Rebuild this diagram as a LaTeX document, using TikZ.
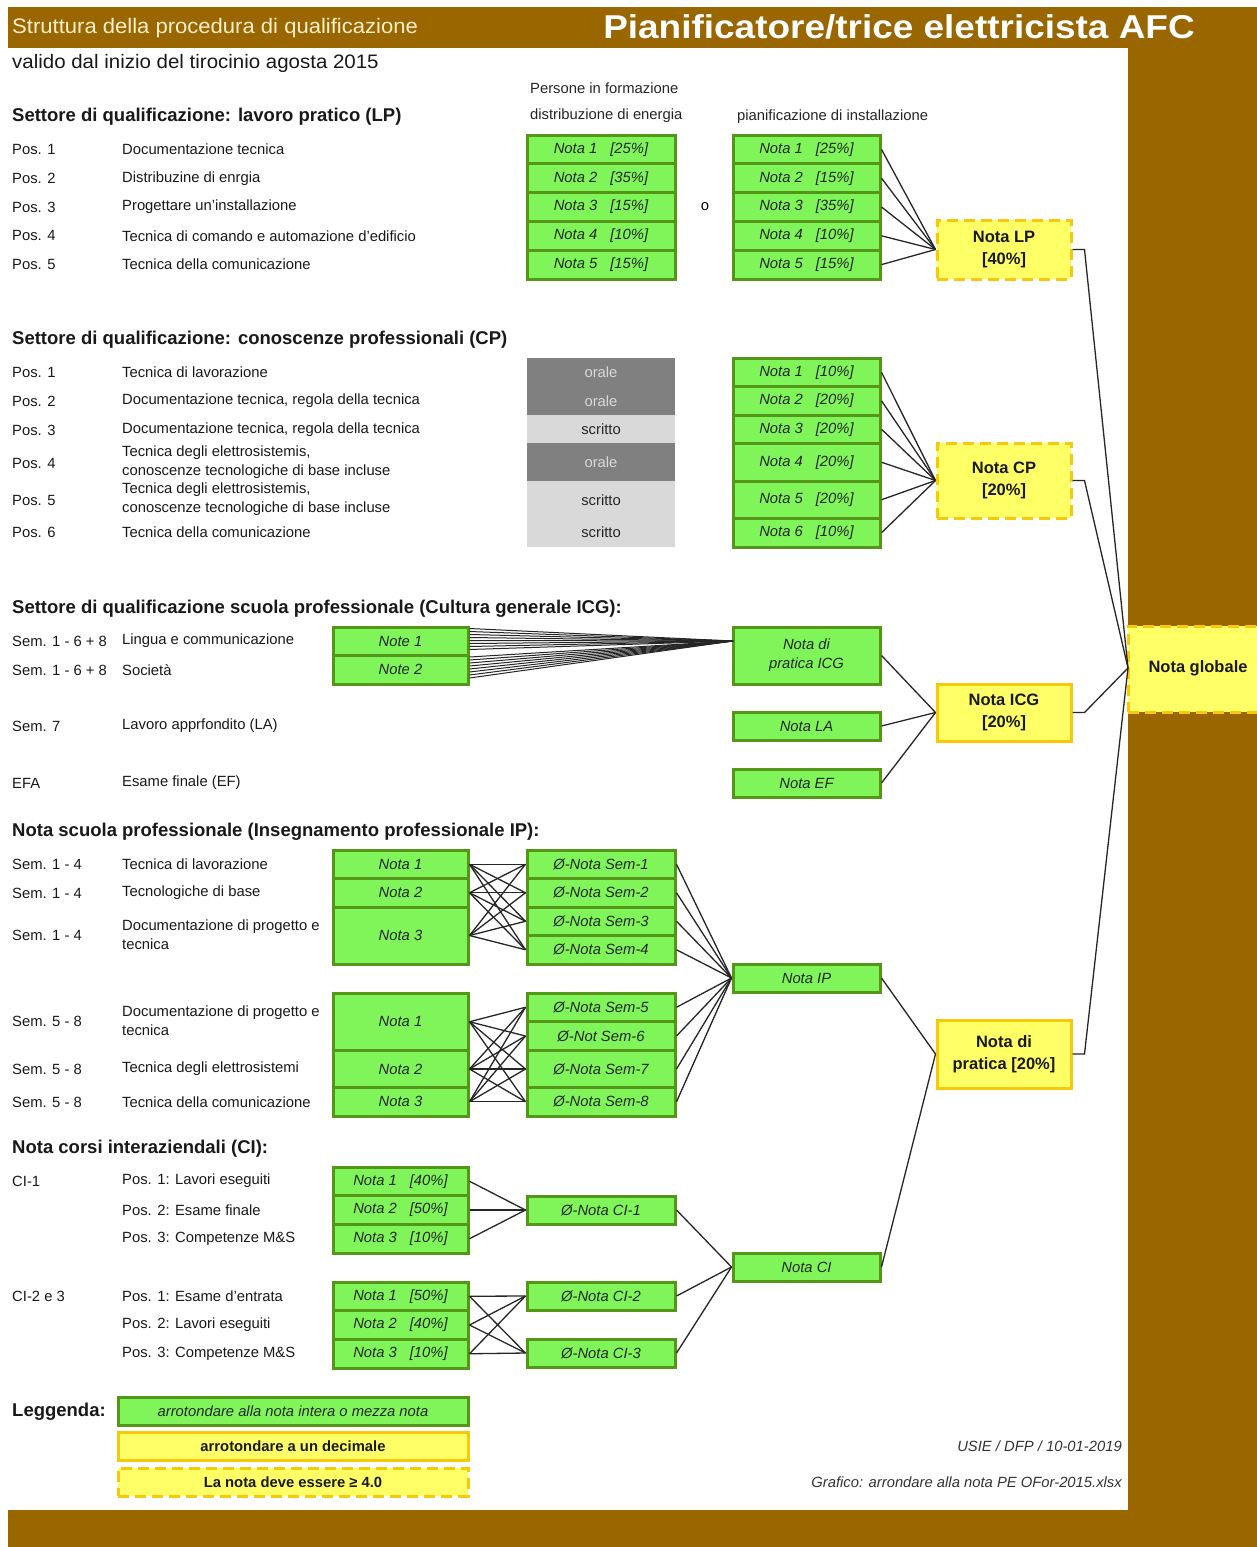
\documentclass[tikz,border=0pt]{standalone}
\usepackage{fontspec}
\setmainfont{Liberation Sans}
\usetikzlibrary{calc}
\definecolor{bgbrown}{RGB}{153,102,0}
\definecolor{gfill}{RGB}{128,245,90}
\definecolor{gline}{RGB}{84,150,24}
\definecolor{yfill}{RGB}{255,255,102}
\definecolor{yline}{RGB}{250,200,10}
\definecolor{dgrey}{RGB}{128,128,128}
\definecolor{lgrey}{RGB}{217,217,217}
\definecolor{cream}{RGB}{255,240,205}
\newcommand\ftxt{\fontsize{14.8}{19}\selectfont}
\newcommand\fhead{\fontsize{18.5}{20}\selectfont\bfseries}
\newcommand\bx[7]{%
 \pgfmathsetmacro\cx{(#3+#5)/2}\pgfmathsetmacro\cy{(#4+#6)/2}%
 \pgfmathsetmacro\ww{#5-#3}\pgfmathsetmacro\hh{#6-#4}%
 \node[#1, minimum width=\ww pt, minimum height=\hh pt] (#2) at (\cx,\cy) {#7};}
\newcommand\nt[2]{Nota #1\hspace{13pt}[#2\%]}
\tikzset{
 gbox/.style={draw=gline, fill=gfill, line width=3pt, inner sep=0pt, align=center,
   font=\fontsize{14.8}{19}\selectfont\itshape, text=black!85},
 ybox/.style={draw=yline, fill=yfill, line width=3pt, inner sep=0pt, align=center,
   font=\fontsize{16.5}{22}\selectfont\bfseries, text=black!90},
 ydbox/.style={ybox, dash pattern=on 11pt off 6pt},
 dgbox/.style={fill=dgrey, inner sep=0pt, font=\ftxt, text=lgrey},
 lgbox/.style={fill=lgrey, inner sep=0pt, font=\ftxt, text=black!85},
 lab/.style={anchor=west, inner sep=0pt, font=\ftxt, text=black!90, align=left},
 hd/.style={anchor=west, inner sep=0pt, font=\fhead, text=black!90},
 con/.style={line width=1.3pt, black!85},
}
\begin{document}
\begin{tikzpicture}[x=1pt,y=-1pt]
\useasboundingbox (0,0) rectangle (1257,1547);
\fill[white] (0,0) rectangle (1257,1547);
% frame
\fill[bgbrown] (8,7) rectangle (1257,48);
\fill[bgbrown] (1128,7) rectangle (1257,1547);
\fill[bgbrown] (8,1510) rectangle (1257,1547);
\node[anchor=west, inner sep=0pt, text=cream, font=\fontsize{21}{24}\selectfont] (title1) at (12,28) {\scalebox{1.05}[1]{Struttura della procedura di qualificazione}};
\node[anchor=east, inner sep=0pt, text=white, font=\fontsize{33}{36}\selectfont\bfseries] (title2) at (1195,27) {\scalebox{1.12}[1]{Pianificatore/trice elettricista AFC}};
\node[anchor=west, inner sep=0pt, text=black!90, font=\fontsize{19.5}{22}\selectfont] (valido) at (12,63) {\scalebox{1.05}[1]{valido dal inizio del tirocinio agosta 2015}};
\node[anchor=west, inner sep=0pt, font=\fontsize{14.8}{16}\selectfont, text=black!85] (pif) at (530,88) {Persone in formazione};
\node[anchor=west, inner sep=0pt, font=\fontsize{14.8}{16}\selectfont, text=black!85] (dde) at (530,116) {distribuzione di energia};
\node[anchor=west, inner sep=0pt, font=\fontsize{14.8}{16}\selectfont, text=black!85] (pdi) at (737,117) {pianificazione di installazione};

% ===== LP =====
\node[hd] (hLP) at (12,117) {Settore di qualificazione: lavoro pratico (LP)};
\node[lab] (lp1p) at (12,149.4) {Pos. 1}; \node[lab] (lp1t) at (122,149.4) {Documentazione tecnica};
\node[lab] (lp2p) at (12,178.2) {Pos. 2}; \node[lab] (lp2t) at (122,178.2) {Distribuzine di enrgia};
\node[lab] (lp3p) at (12,207) {Pos. 3}; \node[lab] (lp3t) at (122,207) {Progettare un'installazione};
\node[lab] (lp4p) at (12,235.8) {Pos. 4}; \node[lab] (lp4t) at (122,235.8) {Tecnica di comando e automazione d'edificio};
\node[lab] (lp5p) at (12,264.6) {Pos. 5}; \node[lab] (lp5t) at (122,264.6) {Tecnica della comunicazione};
\bx{gbox}{lpa1}{527}{135}{675}{163.8}{\nt{1}{25}}
\bx{gbox}{lpa2}{527}{163.8}{675}{192.6}{\nt{2}{35}}
\bx{gbox}{lpa3}{527}{192.6}{675}{221.4}{\nt{3}{15}}
\bx{gbox}{lpa4}{527}{221.4}{675}{250.2}{\nt{4}{10}}
\bx{gbox}{lpa5}{527}{250.2}{675}{279}{\nt{5}{15}}
\node[inner sep=0pt, font=\ftxt] (oo) at (705,207) {o};
\bx{gbox}{lpb1}{733}{135}{880}{163.8}{\nt{1}{25}}
\bx{gbox}{lpb2}{733}{163.8}{880}{192.6}{\nt{2}{15}}
\bx{gbox}{lpb3}{733}{192.6}{880}{221.4}{\nt{3}{35}}
\bx{gbox}{lpb4}{733}{221.4}{880}{250.2}{\nt{4}{10}}
\bx{gbox}{lpb5}{733}{250.2}{880}{279}{\nt{5}{15}}
\bx{ydbox}{nlp}{937}{220}{1071}{279}{Nota LP\\[0pt][40\%]}
\foreach \i in {1,...,5} \draw[con] (lpb\i.east) -- (nlp.west);

% ===== CP =====
\node[hd] (hCP) at (12,340) {Settore di qualificazione: conoscenze professionali (CP)};
\node[lab] (cp1p) at (12,372) {Pos. 1}; \node[lab] (cp1t) at (122,372) {Tecnica di lavorazione};
\node[lab] (cp2p) at (12,401) {Pos. 2}; \node[lab] (cp2t) at (122,401) {Documentazione tecnica, regola della tecnica};
\node[lab] (cp3p) at (12,430) {Pos. 3}; \node[lab] (cp3t) at (122,430) {Documentazione tecnica, regola della tecnica};
\node[lab] (cp4p) at (12,463) {Pos. 4}; \node[lab] (cp4t) at (122,462) {Tecnica degli elettrosistemis,\\conoscenze tecnologiche di base incluse};
\node[lab] (cp5p) at (12,500) {Pos. 5}; \node[lab] (cp5t) at (122,499.5) {Tecnica degli elettrosistemis,\\conoscenze tecnologiche di base incluse};
\node[lab] (cp6p) at (12,532) {Pos. 6}; \node[lab] (cp6t) at (122,532) {Tecnica della comunicazione};
\bx{dgbox}{gr1}{527}{358}{675}{415}{}
\node[inner sep=0pt, font=\ftxt, text=lgrey] (or1) at (601,372) {orale};
\node[inner sep=0pt, font=\ftxt, text=lgrey] (or2) at (601,401) {orale};
\bx{lgbox}{gr2}{527}{415}{675}{443}{scritto}
\bx{dgbox}{gr3}{527}{443}{675}{481}{orale}
\bx{lgbox}{gr4}{527}{481}{675}{547}{}
\node[inner sep=0pt, font=\ftxt, text=black!85] (sc1) at (601,500) {scritto};
\node[inner sep=0pt, font=\ftxt, text=black!85] (sc2) at (601,532) {scritto};
\bx{gbox}{cp1}{733}{358}{880}{386.5}{\nt{1}{10}}
\bx{gbox}{cp2}{733}{386.5}{880}{415}{\nt{2}{20}}
\bx{gbox}{cp3}{733}{415}{880}{443.5}{\nt{3}{20}}
\bx{gbox}{cp4}{733}{443.5}{880}{481}{\nt{4}{20}}
\bx{gbox}{cp5}{733}{481}{880}{518.5}{\nt{5}{20}}
\bx{gbox}{cp6}{733}{518.5}{880}{547}{\nt{6}{10}}
\bx{ydbox}{ncp}{937}{443}{1071}{518}{Nota CP\\[0pt][20\%]}
\foreach \i in {1,...,6} \draw[con] (cp\i.east) -- (ncp.west);

% ===== ICG =====
\node[hd] (hICG) at (12,609) {Settore di qualificazione scuola professionale (Cultura generale ICG):};
\node[lab] (ic1p) at (12,641) {Sem. 1 - 6 + 8}; \node[lab] (ic1t) at (122,641) {Lingua e communicazione};
\node[lab] (ic2p) at (12,670) {Sem. 1 - 6 + 8}; \node[lab] (ic2t) at (122,670) {Società};
\node[lab] (ic3p) at (12,726) {Sem. 7}; \node[lab] (ic3t) at (122,726) {Lavoro apprfondito (LA)};
\node[lab] (ic4p) at (12,783) {EFA}; \node[lab] (ic4t) at (122,783) {Esame finale (EF)};
\bx{gbox}{ng1}{333}{627}{468}{655.5}{Note 1}
\bx{gbox}{ng2}{333}{655.5}{468}{684}{Note 2}
\bx{gbox}{icgp}{733}{627}{880}{684}{Nota di\\pratica ICG}
\bx{gbox}{nla}{733}{712}{880}{740}{Nota LA}
\bx{gbox}{nef}{733}{769}{880}{797}{Nota EF}
\bx{ybox}{nicg}{937}{684}{1071}{741}{Nota ICG\\[0pt][20\%]}
\coordinate (icgc) at (733,641);
\foreach \d in {3,6,...,24} {
  \draw[con, line width=1pt] ([yshift=-\d pt]ng1.north east) -- (icgc);
  \draw[con, line width=1pt] ([yshift=-\d pt]ng2.north east) -- (icgc);
}
\draw[con] (icgp.east) -- (nicg.west);
\draw[con] (nla.east) -- (nicg.west);
\draw[con] (nef.east) -- (nicg.west);

% ===== IP =====
\node[hd] (hIP) at (12,832) {Nota scuola professionale (Insegnamento professionale IP):};
\node[lab] (ip1p) at (12,864) {Sem. 1 - 4}; \node[lab] (ip1t) at (122,864) {Tecnica di lavorazione};
\node[lab] (ip2p) at (12,893) {Sem. 1 - 4}; \node[lab] (ip2t) at (122,893) {Tecnologiche di base};
\node[lab] (ip3p) at (12,935) {Sem. 1 - 4}; \node[lab] (ip3t) at (122,934.5) {Documentazione di progetto e\\tecnica};
\node[lab] (ip4p) at (12,1021) {Sem. 5 - 8}; \node[lab] (ip4t) at (122,1020.5) {Documentazione di progetto e\\tecnica};
\node[lab] (ip5p) at (12,1069) {Sem. 5 - 8}; \node[lab] (ip5t) at (122,1069) {Tecnica degli elettrosistemi};
\node[lab] (ip6p) at (12,1102) {Sem. 5 - 8}; \node[lab] (ip6t) at (122,1102) {Tecnica della comunicazione};
\bx{gbox}{ia1}{333}{850}{468}{878.5}{Nota 1}
\bx{gbox}{ia2}{333}{878.5}{468}{907}{Nota 2}
\bx{gbox}{ia3}{333}{907}{468}{964}{Nota 3}
\bx{gbox}{s1}{527}{850}{675}{878.5}{Ø-Nota Sem-1}
\bx{gbox}{s2}{527}{878.5}{675}{907}{Ø-Nota Sem-2}
\bx{gbox}{s3}{527}{907}{675}{935.5}{Ø-Nota Sem-3}
\bx{gbox}{s4}{527}{935.5}{675}{964}{Ø-Nota Sem-4}
\bx{gbox}{ib1}{333}{993}{468}{1050.5}{Nota 1}
\bx{gbox}{ib2}{333}{1050.5}{468}{1087.5}{Nota 2}
\bx{gbox}{ib3}{333}{1087.5}{468}{1116}{Nota 3}
\bx{gbox}{s5}{527}{993}{675}{1021.5}{Ø-Nota Sem-5}
\bx{gbox}{s6}{527}{1021.5}{675}{1050.5}{Ø-Not Sem-6}
\bx{gbox}{s7}{527}{1050.5}{675}{1087.5}{Ø-Nota Sem-7}
\bx{gbox}{s8}{527}{1087.5}{675}{1116}{Ø-Nota Sem-8}
\bx{gbox}{nip}{733}{964}{880}{992}{Nota IP}
\foreach \a in {1,2,3} {
  \foreach \s in {1,2,3,4} \draw[con] (ia\a.east) -- (s\s.west);
  \foreach \s in {5,6,7,8} \draw[con] (ib\a.east) -- (s\s.west);
}
\foreach \s in {1,...,8} \draw[con] (s\s.east) -- (nip.west);
\bx{ybox}{npr}{937}{1020}{1071}{1088}{Nota di\\[0pt]pratica [20\%]}
\draw[con] (nip.east) -- (npr.west);

% ===== CI =====
\node[hd] (hCI) at (12,1149) {Nota corsi interaziendali (CI):};
\node[lab] (ci0) at (12,1181) {CI-1};
\node[lab] (ci1t) at (122,1181) {Pos. 1: Lavori eseguiti};
\node[lab] (ci2t) at (122,1210) {Pos. 2: Esame finale};
\node[lab] (ci3t) at (122,1239) {Pos. 3: Competenze M\&S};
\node[lab] (ci00) at (12,1296) {CI-2 e 3};
\node[lab] (ci4t) at (122,1296) {Pos. 1: Esame d'entrata};
\node[lab] (ci5t) at (122,1325) {Pos. 2: Lavori eseguiti};
\node[lab] (ci6t) at (122,1354) {Pos. 3: Competenze M\&S};
\bx{gbox}{ca1}{333}{1167}{468}{1195.5}{\nt{1}{40}}
\bx{gbox}{ca2}{333}{1195.5}{468}{1224.5}{\nt{2}{50}}
\bx{gbox}{ca3}{333}{1224.5}{468}{1253}{\nt{3}{10}}
\bx{gbox}{ci1}{527}{1196}{675}{1224}{Ø-Nota CI-1}
\bx{gbox}{cb1}{333}{1282}{468}{1310.5}{\nt{1}{50}}
\bx{gbox}{cb2}{333}{1310.5}{468}{1339.5}{\nt{2}{40}}
\bx{gbox}{cb3}{333}{1339.5}{468}{1368}{\nt{3}{10}}
\bx{gbox}{ci2}{527}{1282}{675}{1310}{Ø-Nota CI-2}
\bx{gbox}{ci3}{527}{1339}{675}{1367}{Ø-Nota CI-3}
\bx{gbox}{nci}{733}{1253}{880}{1281}{Nota CI}
\foreach \a in {1,2,3} {
  \draw[con] (ca\a.east) -- (ci1.west);
  \draw[con] (cb\a.east) -- (ci2.west);
  \draw[con] (cb\a.east) -- (ci3.west);
}
\foreach \s in {1,2,3} \draw[con] (ci\s.east) -- (nci.west);
\draw[con] (nci.east) -- (npr.west);

% ===== global =====
\bx{ydbox}{nglob}{1128}{626}{1268}{712}{}
\node[inner sep=0pt, font=\fontsize{16.5}{20}\selectfont\bfseries, text=black!90] (ngt) at (1198,668) {Nota globale};
\coordinate (gin) at (1128,668);
\foreach \n in {nlp,ncp,nicg,npr} \draw[con] (\n.east) -- ++(12,0) -- (gin);

% ===== legend =====
\node[anchor=west, inner sep=0pt, font=\fontsize{18.5}{22}\selectfont\bfseries, text=black!90] (leg) at (12,1412) {Leggenda:};
\bx{gbox}{lg1}{118}{1397}{468}{1425}{arrotondare alla nota intera o mezza nota}
\bx{ybox}{lg2}{118}{1432}{468}{1460}{\fontsize{14.8}{17}\selectfont arrotondare a un decimale}
\bx{ydbox}{lg3}{118}{1468}{468}{1496}{\fontsize{14.8}{17}\selectfont La nota deve essere ≥ 4.0}
\node[anchor=east, inner sep=0pt, font=\fontsize{14.8}{17}\selectfont\itshape, text=black!80] (usie) at (1122,1446) {USIE / DFP / 10-01-2019};
\node[anchor=east, inner sep=0pt, font=\fontsize{14.8}{17}\selectfont\itshape, text=black!80] (graf) at (1122,1482) {Grafico: arrondare alla nota PE OFor-2015.xlsx};
\end{tikzpicture}
\end{document}
